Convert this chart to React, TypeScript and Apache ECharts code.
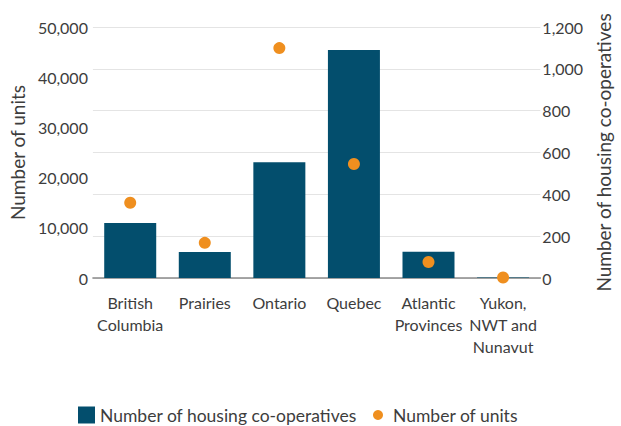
import React, { useEffect, useRef } from "react";
import * as echarts from "echarts";

const categories = [
  "British\nColumbia",
  "Prairies",
  "Ontario",
  "Quebec",
  "Atlantic\nProvinces",
  "Yukon,\nNWT and\nNunavut",
];
const coops = [263, 124, 553, 1090, 126, 2];
const units = [15000, 7000, 45800, 22700, 3200, 100];

const FONT = "Lato, 'Open Sans', sans-serif";
const TXT = "#3d3d3d";

export default function App() {
  const ref = useRef<HTMLDivElement>(null);
  useEffect(() => {
    document.body.style.margin = "0";
    const chart = echarts.init(ref.current!, undefined, { renderer: "svg" });
    chart.setOption({
      animation: false,
      textStyle: { fontFamily: FONT },
      grid: { left: 86, right: 64, top: 27, bottom: 148 },
      legend: [
        {
          left: 73,
          top: 401,
          itemWidth: 17,
          itemHeight: 17,
          itemGap: 20,
          textStyle: { fontSize: 17.5, color: TXT, fontFamily: FONT },
          data: [{ name: "Number of housing co-operatives", icon: "rect" }],
        },
        {
          left: 368,
          top: 401,
          itemWidth: 20,
          itemHeight: 10,
          textStyle: { fontSize: 17.5, color: TXT, fontFamily: FONT },
          data: [{ name: "Number of units", icon: "circle" }],
        },
      ],
      xAxis: {
        type: "category",
        data: categories,
        axisLine: { lineStyle: { color: "#8a8a8a", width: 1.5 } },
        axisTick: { show: false },
        axisLabel: {
          interval: 0,
          margin: 13,
          fontSize: 16,
          lineHeight: 22,
          color: TXT,
          fontFamily: FONT,
        },
      },
      yAxis: [
        {
          type: "value",
          min: 0,
          max: 50000,
          interval: 10000,
          name: "Number of units",
          nameLocation: "middle",
          nameGap: 62,
          nameTextStyle: { fontSize: 19, color: TXT, fontFamily: FONT },
          axisLine: { show: false },
          axisTick: { show: false },
          splitLine: { show: false },
          axisLabel: {
            margin: 5,
            fontSize: 16,
            color: TXT,
            fontFamily: FONT,
            formatter: (v: number) => v.toLocaleString("en-US"),
          },
        },
        {
          type: "value",
          min: 0,
          max: 1200,
          interval: 200,
          position: "right",
          name: "Number of housing co-operatives",
          nameLocation: "middle",
          nameGap: 48,
          nameRotate: 90,
          nameTextStyle: { fontSize: 19, color: TXT, fontFamily: FONT },
          axisLine: { show: false },
          axisTick: { show: false },
          splitLine: { show: true, lineStyle: { color: "#e4e4e4", width: 1 } },
          axisLabel: {
            margin: 2,
            fontSize: 16,
            color: TXT,
            fontFamily: FONT,
            formatter: (v: number) => v.toLocaleString("en-US"),
          },
        },
      ],
      series: [
        {
          name: "Number of housing co-operatives",
          type: "bar",
          yAxisIndex: 1,
          data: coops,
          barWidth: 52,
          itemStyle: { color: "#034e6d" },
        },
        {
          name: "Number of units",
          type: "scatter",
          yAxisIndex: 0,
          data: units,
          symbolSize: 12,
          itemStyle: { color: "#ef8f1f", opacity: 1 },
        },
      ],
    });
    return () => chart.dispose();
  }, []);
  return <div ref={ref} style={{ width: 621, height: 426 }} />;
}
